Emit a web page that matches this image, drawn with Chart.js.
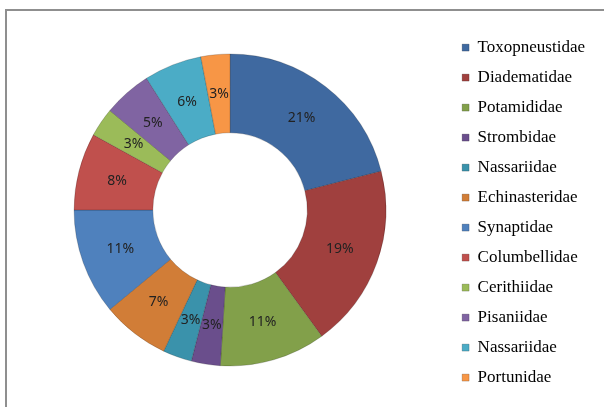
<!DOCTYPE html>
<html>
<head>
<meta charset="utf-8">
<script src="https://cdn.jsdelivr.net/npm/chart.js@4.4.1/dist/chart.umd.min.js"></script>
<style>
    html, body { margin: 0; padding: 0; background: #fff; overflow: hidden; }
    #frame {
        position: absolute; left: 5px; top: 9px; width: 700px; height: 500px;
        border: 2px solid #8f8f8f;
    }
    #wrap { position: absolute; left: 0; top: 0; width: 604px; height: 407px; }
</style>
</head>
<body>
<div id="frame"></div>
<div id="wrap"><canvas id="chart"></canvas></div>
<script>
const families = ['Toxopneustidae', 'Diadematidae', 'Potamididae', 'Strombidae',
    'Nassariidae', 'Echinasteridae', 'Synaptidae', 'Columbellidae',
    'Cerithiidae', 'Pisaniidae', 'Nassariidae', 'Portunidae']
const shares = [21, 19, 11, 3, 3, 7, 11, 8, 3, 5, 6, 3]
const sliceColors = ['#3f69a0', '#a0403e', '#82a04a', '#6a4e8c', '#3a92ab', '#d17d37',
    '#4f81bd', '#c0504d', '#9bbb59', '#8064a2', '#4bacc6', '#f79646']

// percent labels in the middle of each ring segment
const percentLabels = {
    id: 'percentLabels',
    afterDatasetsDraw(chart) {
        const ctx = chart.ctx
        const meta = chart.getDatasetMeta(0)
        const total = shares.reduce((a, b) => a + b, 0)
        ctx.save()
        ctx.font = '14px "Noto Sans", "Open Sans", sans-serif'
        ctx.fillStyle = '#222'
        ctx.textAlign = 'center'
        ctx.textBaseline = 'middle'
        meta.data.forEach((arc, i) => {
            const p = arc.tooltipPosition()
            ctx.fillText(Math.round(shares[i] / total * 100) + '%', p.x, p.y)
        })
        ctx.restore()
    }
}

new Chart(document.getElementById('chart'), {
    type: 'doughnut',
    data: {
        labels: families,
        datasets: [{
            data: shares,
            backgroundColor: sliceColors,
            borderColor: 'rgba(0,0,0,0.18)',
            borderWidth: 1,
            radius: 156,
            cutout: '49.5%'
        }]
    },
    options: {
        responsive: true,
        maintainAspectRatio: false,
        animation: false,
        layout: { padding: { left: 11, right: 9, top: 14, bottom: 1 } },
        plugins: {
            tooltip: { enabled: false },
            legend: {
                position: 'right',
                // empty title only nudges the list down a few pixels
                title: { display: true, text: '', font: { size: 1 }, padding: { top: 2, bottom: 2 } },
                labels: {
                    boxWidth: 7,
                    boxHeight: 7,
                    padding: 13,
                    color: '#000',
                    font: { family: '"Liberation Serif", "Times New Roman", serif', size: 17 }
                }
            }
        }
    },
    plugins: [percentLabels]
})
</script>
</body>
</html>
